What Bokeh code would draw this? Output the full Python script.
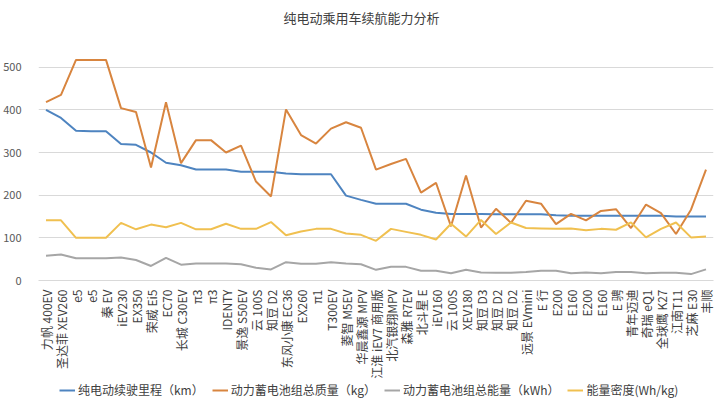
from bokeh.plotting import figure
from bokeh.models import Range1d, FixedTicker, Legend, LegendItem, Label
from bokeh.layouts import column
from bokeh.embed import file_html
from bokeh.resources import INLINE
import math

names = ["力帆 400EV", "圣达菲 XEV260", "e5", "e5", "秦 EV", "iEV230", "EX350", "荣威 Ei5", "EC70",
         "长城 C30EV", "π3", "π3", "IDENTY", "景逸 S50EV", "云 100S", "知豆 D2", "东风小康 EC36",
         "EX260", "π1", "T300EV", "菱智 M5EV", "华晨鑫源 MPV", "江淮 iEV7 商用版", "北汽银翔MPV",
         "森雅 R7EV", "北斗星 E", "iEV160", "云 100S", "XEV180", "知豆 D3", "知豆 D2", "知豆 D2",
         "远景 EVmini", "E 行", "E200", "E160", "E200", "E160", "E 骋", "青年迈迪", "奇瑞 eQ1",
         "全球鹰 K27", "江南T11", "芝麻 E30", "丰顺"]

range_km = [400, 381, 351, 350, 350, 320, 318, 300, 276, 270, 260, 260, 260, 255, 255,
            255, 251, 249, 249, 249, 199, 189, 180, 180, 180, 166, 159, 156, 156, 156,
            155, 155, 155, 155, 153, 152, 152, 152, 152, 152, 152, 152, 150, 150, 150]
mass_kg = [418, 435, 517, 517, 517, 404, 395, 265, 418, 275, 329, 329, 300, 316, 232,
           197, 401, 341, 321, 356, 371, 358, 260, 273, 285, 206, 229, 127, 246, 124,
           168, 135, 187, 180, 132, 156, 141, 163, 167, 123, 178, 158, 109, 166, 260]
energy_kwh = [58, 61, 52, 52, 52, 54, 48, 34, 53, 37, 40, 40, 40, 38, 30,
              26, 43, 39, 39, 43, 40, 38, 25, 32, 32, 23, 23, 17, 25, 19,
              18, 18, 20, 23, 23, 17, 19, 17, 20, 20, 17, 18, 18, 15, 26]
density = [141, 141, 100, 100, 100, 135, 120, 131, 125, 135, 120, 120, 133, 121, 121,
           137, 106, 115, 121, 121, 110, 107, 93, 121, 114, 107, 96, 133, 103, 142,
           109, 136, 123, 122, 121, 122, 118, 121, 119, 136, 101, 121, 136, 101, 103]

title_text = "纯电动乘用车续航能力分析"
series_labels = ["纯电动续驶里程（km）", "动力蓄电池组总质量（kg）", "动力蓄电池组总能量（kWh）", "能量密度(Wh/kg)"]
y_ticks = [0, 100, 200, 300, 400, 500]

FONT = "Noto Sans CJK SC"
colors = ["#4E84C0", "#D8853F", "#A6A6A6", "#F0C050"]
series = [range_km, mass_kg, energy_kwh, density]

xs = list(range(len(names)))

# --- title strip ---
pt = figure(width=720, height=30, output_backend="svg", toolbar_location=None,
            x_range=Range1d(0, 1), y_range=Range1d(0, 1),
            x_axis_location=None, y_axis_location=None,
            min_border_top=0, min_border_left=0, min_border_right=0, min_border_bottom=0)
pt.outline_line_color = None
pt.xgrid.grid_line_color = None
pt.ygrid.grid_line_color = None
pt.add_layout(Label(x=323, y=13, x_units="screen", y_units="screen", text=title_text,
                    text_align="center", text_baseline="middle", text_font=FONT,
                    text_font_size="13px", text_color="#404040"))

# --- main chart ---
p = figure(width=720, height=351, output_backend="svg", toolbar_location=None,
           x_range=Range1d(-0.5, len(names) - 0.5), y_range=Range1d(0, 525),
           min_border_top=26, min_border_left=31, min_border_right=7, min_border_bottom=100)

p.outline_line_color = None
p.xgrid.grid_line_color = None
p.ygrid.grid_line_color = "#D9D9D9"
p.ygrid.grid_line_width = 1
p.ygrid.ticker = FixedTicker(ticks=y_ticks)

p.yaxis.ticker = FixedTicker(ticks=y_ticks)
p.yaxis.axis_line_color = None
p.yaxis.major_tick_line_color = None
p.yaxis.minor_tick_line_color = None
p.yaxis.major_label_text_font = FONT
p.yaxis.major_label_text_font_size = "11px"
p.yaxis.major_label_text_color = "#595959"
p.yaxis.major_label_standoff = 11

p.xaxis.ticker = FixedTicker(ticks=xs)
p.xaxis.major_label_overrides = {i: n for i, n in enumerate(names)}
p.xaxis.major_label_orientation = math.pi / 2
p.xaxis.axis_line_color = "#D9D9D9"
p.xaxis.major_tick_line_color = None
p.xaxis.minor_tick_line_color = None
p.xaxis.major_label_text_font = FONT
p.xaxis.major_label_text_font_size = "12px"
p.xaxis.major_label_text_color = "#404040"
p.xaxis.major_label_standoff = 3

for vals, c in zip(series, colors):
    p.line(xs, vals, line_color=c, line_width=2)

# --- legend strip ---
pl = figure(width=720, height=19, output_backend="svg", toolbar_location=None,
            x_range=Range1d(0, 1), y_range=Range1d(0, 1),
            x_axis_location=None, y_axis_location=None,
            min_border_top=0, min_border_left=0, min_border_right=0, min_border_bottom=0)
pl.outline_line_color = None
pl.xgrid.grid_line_color = None
pl.ygrid.grid_line_color = None
items = []
for c, lab in zip(colors, series_labels):
    # legend-only renderer, drawn outside the visible range
    r = pl.line(x=[5, 6], y=[5, 6], line_color=c, line_width=2)
    items.append(LegendItem(label=lab, renderers=[r]))
legend = Legend(items=items, orientation="horizontal", location=(21, 2),
                label_text_font=FONT, label_text_font_size="12px", label_text_color="#404040",
                glyph_width=16, glyph_height=14, label_height=14, label_standoff=3, spacing=8,
                border_line_color=None, background_fill_alpha=0, padding=0, margin=0)
pl.add_layout(legend, "center")

layout = column(pt, p, pl, spacing=0)
open("out.html", "w").write(file_html(layout, INLINE))
